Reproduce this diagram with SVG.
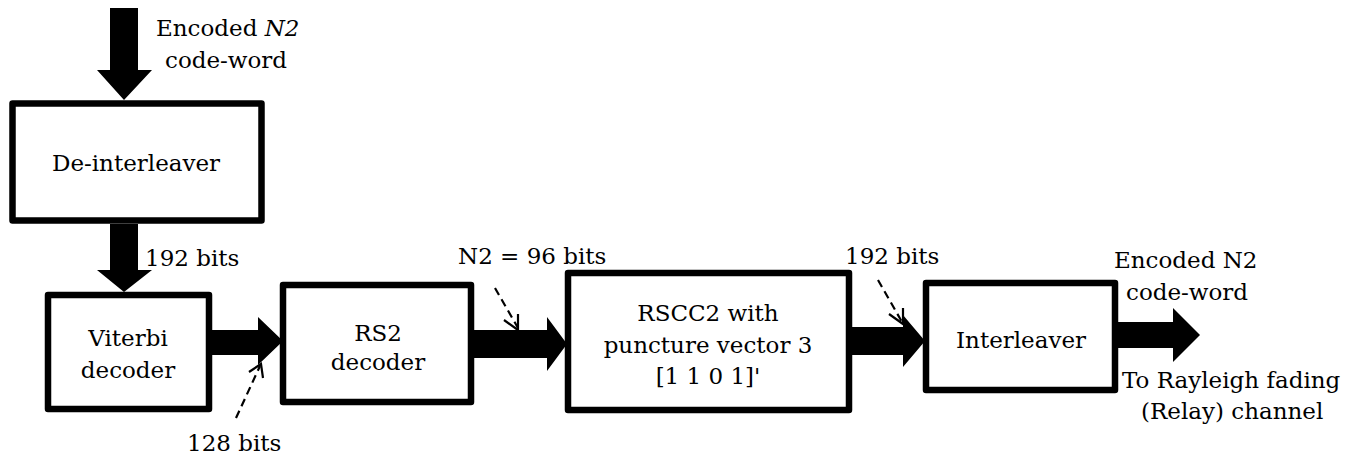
<svg xmlns="http://www.w3.org/2000/svg" width="1358" height="457" viewBox="0 0 1358 457">
<defs>
<style>
.box{fill:#fff;stroke:#000;stroke-width:6.5;stroke-linejoin:round}
.t{font-family:"DejaVu Serif","Liberation Serif",serif;font-size:23px;fill:#000}
.c{text-anchor:middle}
.arr{fill:#000}
.dash{fill:none;stroke:#000;stroke-width:2.2;stroke-dasharray:8,5}
.head{fill:none;stroke:#000;stroke-width:2.2}
</style>
</defs>
<g id="connectors">
<polygon class="arr" points="110,8 138,8 138,70 152,70 124,100 97,70 110,70"/>
<polygon class="arr" points="110,224 138,224 138,270 152,270 124,292 97,270 110,270"/>
<polygon class="arr" points="212,330 258,330 258,317 283,341 258,365 258,355 212,355"/>
<polygon class="arr" points="474,330 547,330 547,317 567,344 547,371 547,358 474,358"/>
<polygon class="arr" points="852,327 903,327 903,315 925,341 903,367 903,355 852,355"/>
<polygon class="arr" points="1118,322 1173,322 1173,308 1200,335 1173,362 1173,348 1118,348"/>
<line class="dash" x1="236" y1="418" x2="260" y2="366"/>
<polyline class="head" points="249,372 261,364 263,378"/>
<line class="dash" x1="495" y1="288" x2="518" y2="328"/>
<polyline class="head" points="504,320 518,330 518,314"/>
<line class="dash" x1="878" y1="280" x2="902" y2="322"/>
<polyline class="head" points="889,314 903,324 903,308"/>
</g>
<g id="deinterleaver">
<rect class="box" x="12.5" y="103.5" width="249" height="117"/>
<text class="t c" x="136" y="171">De-interleaver</text>
</g>
<g id="viterbi">
<rect class="box" x="48" y="295" width="161" height="114"/>
<text class="t c" x="128" y="346">Viterbi</text>
<text class="t c" x="128" y="378">decoder</text>
</g>
<g id="rs2">
<rect class="box" x="283" y="285" width="188" height="117"/>
<text class="t c" x="378" y="341">RS2</text>
<text class="t c" x="378" y="370">decoder</text>
</g>
<g id="rscc2">
<rect class="box" x="568" y="273" width="281" height="137"/>
<text class="t c" x="708" y="321">RSCC2 with</text>
<text class="t c" x="708" y="353">puncture vector 3</text>
<text class="t c" x="708" y="384">[1 1 0 1]'</text>
</g>
<g id="interleaver">
<rect class="box" x="926" y="283" width="189" height="107"/>
<text class="t c" x="1021" y="348">Interleaver</text>
</g>
<g id="labels">
<text class="t" x="156" y="36">Encoded <tspan font-style="italic">N2</tspan></text>
<text class="t" x="165" y="68">code-word</text>
<text class="t" x="145" y="266">192 bits</text>
<text class="t" x="187" y="451">128 bits</text>
<text class="t" x="458" y="264">N2 = 96 bits</text>
<text class="t" x="845" y="264">192 bits</text>
<text class="t" x="1114" y="268">Encoded N2</text>
<text class="t" x="1126" y="300">code-word</text>
<text class="t" x="1122" y="388">To Rayleigh fading</text>
<text class="t" x="1141" y="419">(Relay) channel</text>
</g>
</svg>
